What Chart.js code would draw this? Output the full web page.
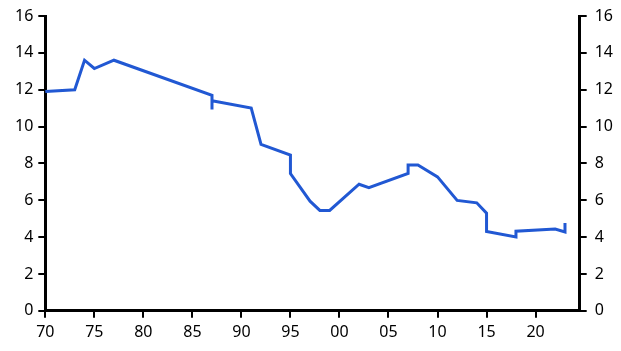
<!DOCTYPE html>
<html>
<head>
<meta charset="utf-8">
<script src="https://cdn.jsdelivr.net/npm/chart.js@4/dist/chart.umd.min.js"></script>
<style>
  html, body { margin: 0; padding: 0; background: #fff; }
</style>
</head>
<body>
<canvas id="grafico" width="621" height="351"></canvas>
<script>
// anni (con i salti verticali ripetuti sullo stesso anno)
var anni = [1970, 1973, 1974, 1975, 1977, 1987, 1987, 1987, 1991, 1992, 1995, 1995, 1996, 1997, 1998, 1999,
            2002, 2003, 2007, 2007, 2008, 2010, 2012, 2014, 2015, 2015, 2018, 2018, 2022, 2023, 2023];
var valori = [11.9, 12.0, 13.6, 13.15, 13.6, 11.7, 10.93, 11.4, 11.0, 9.03, 8.45, 7.45, 6.7, 5.95, 5.45, 5.45,
              6.87, 6.68, 7.46, 7.91, 7.91, 7.27, 5.99, 5.86, 5.3, 4.3, 4.01, 4.32, 4.44, 4.28, 4.77];
var tickAnni = [1970, 1975, 1980, 1985, 1990, 1995, 2000, 2005, 2010, 2015, 2020];
var tickY = [0, 2, 4, 6, 8, 10, 12, 14, 16];

var punti = [];
for (var i = 0; i < anni.length; i++) {
    punti.push({ x: anni[i], y: valori[i] });
}

function assey(pos, pad) {
    return {
        type: 'linear',
        position: pos,
        min: 0,
        max: 16,
        afterBuildTicks: function(scale) {
            scale.ticks = tickY.map(function(v) { return { value: v }; });
        },
        ticks: { color: '#000', font: { size: 16, lineHeight: 1.0 }, padding: pad },
        grid: { drawOnChartArea: false, drawTicks: true, tickLength: 7, color: '#000', lineWidth: 2 },
        border: { color: '#000', width: 3 }
    };
}

Chart.defaults.font.family = '"Noto Sans", sans-serif';

var chart = new Chart(document.getElementById('grafico'), {
    type: 'line',
    data: {
        datasets: [{
            data: punti,
            borderColor: '#2158d3',
            borderWidth: 3,
            pointRadius: 0,
            tension: 0,
            clip: false,
            yAxisID: 'y'
        }]
    },
    options: {
        responsive: false,
        animation: false,
        layout: { padding: { top: 1, right: 0, left: 10, bottom: 4 } },
        plugins: { legend: { display: false }, tooltip: { enabled: false } },
        scales: {
            x: {
                type: 'linear',
                min: 1970,
                max: 2024.5,
                afterBuildTicks: function(scale) {
                    scale.ticks = tickAnni.map(function(v) { return { value: v }; });
                },
                ticks: {
                    color: '#000',
                    font: { size: 16 },
                    maxRotation: 0,
                    padding: 5,
                    callback: function(v) { return String(v % 100).padStart(2, '0'); }
                },
                grid: { drawOnChartArea: false, drawTicks: true, tickLength: 7, color: '#000', lineWidth: 2 },
                border: { color: '#000', width: 3 }
            },
            y: assey('left', 5),
            y2: assey('right', 8)
        }
    }
});
</script>
</body>
</html>
